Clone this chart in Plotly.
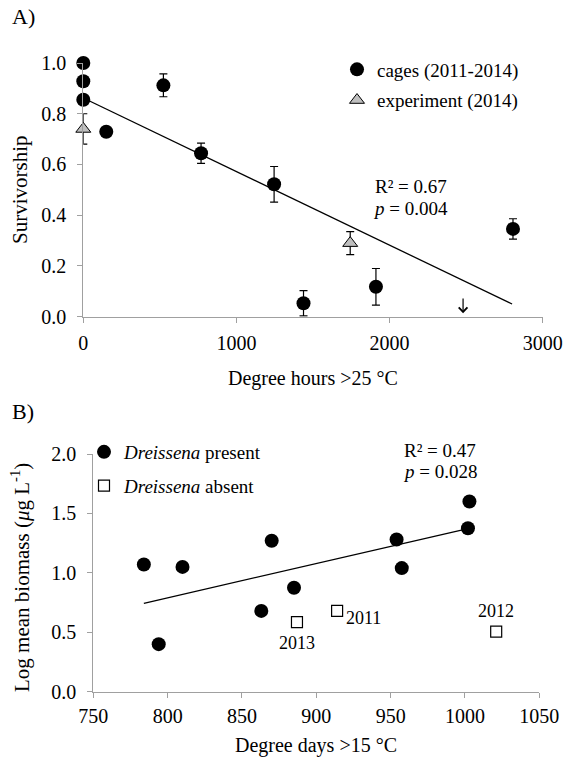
import plotly.graph_objects as go

W, H = 566, 763
FONT = "'Liberation Serif', 'Times New Roman', Tinos, serif"

# ---------------- Panel A data ----------------
cage_x = [0, 0, 0, 150, 523, 769, 1246, 1438, 1911, 2806]
cage_y = [1.0, 0.928, 0.855, 0.729, 0.912, 0.644, 0.522, 0.053, 0.118, 0.346]
cage_err = [0, 0, 0, 0, 0.045, 0.04, 0.07, 0.05, 0.072, 0.04]
exp_x = [0, 1743]
exp_y = [0.74, 0.29]
exp_err = [0.06, 0.045]
trendA_x = [0, 2800]
trendA_y = [0.862, 0.05]
arrowA_x = 2480
arrowA_y = [0.078, 0.014]
statsA = ["R² = 0.67", "<i>p</i> = 0.004"]
statsA_pos = (2137, [0.515, 0.428])
ticksA_x = [0, 1000, 2000, 3000]
ticksA_y = [0.0, 0.2, 0.4, 0.6, 0.8, 1.0]

# ---------------- Panel B data ----------------
pres_x = [784, 794, 810, 863, 870, 885, 954, 957.5, 1002, 1003]
pres_y = [1.07, 0.40, 1.05, 0.68, 1.27, 0.875, 1.28, 1.04, 1.375, 1.60]
abs_x = [887, 914, 1021]
abs_y = [0.585, 0.68, 0.505]
abs_labels = ["2013", "2011", "2012"]
trendB_x = [784, 1002]
trendB_y = [0.744, 1.372]
statsB = ["R² = 0.47", "<i>p</i> = 0.028"]
statsB_pos = (983, 1.85)
ticksB_x = [750, 800, 850, 900, 950, 1000, 1050]
ticksB_y = [0.0, 0.5, 1.0, 1.5, 2.0]


def px_x(p):
    return p / W


def px_y(p):
    return 1 - p / H


fig = go.Figure()

# Panel A traces
fig.add_trace(go.Scatter(
    x=trendA_x, y=trendA_y, mode="lines", line=dict(color="black", width=1.3),
    showlegend=False, xaxis="x", yaxis="y", hoverinfo="skip"))
fig.add_trace(go.Scatter(
    x=cage_x, y=cage_y, mode="markers", name="cages (2011-2014)",
    marker=dict(symbol="circle", size=14, color="black"),
    error_y=dict(type="data", array=cage_err, color="black", thickness=1.2, width=4),
    cliponaxis=False, xaxis="x", yaxis="y", legend="legend",
    legendgroup="a1"))
fig.add_trace(go.Scatter(
    x=exp_x, y=exp_y, mode="markers", name="experiment (2014)",
    marker=dict(symbol="triangle-up", size=13, color="#bfbfbf",
                line=dict(color="black", width=1)),
    error_y=dict(type="data", array=exp_err, color="black", thickness=1.2, width=4),
    cliponaxis=False, xaxis="x", yaxis="y", legend="legend",
    legendgroup="a2"))

# Panel B traces
fig.add_trace(go.Scatter(
    x=trendB_x, y=trendB_y, mode="lines", line=dict(color="black", width=1.3),
    showlegend=False, xaxis="x2", yaxis="y2", hoverinfo="skip"))
fig.add_trace(go.Scatter(
    x=pres_x, y=pres_y, mode="markers", name="<i>Dreissena</i> present",
    marker=dict(symbol="circle", size=14, color="black"),
    cliponaxis=False, xaxis="x2", yaxis="y2", legend="legend2",
    legendgroup="b1"))
fig.add_trace(go.Scatter(
    x=abs_x, y=abs_y, mode="markers", name="<i>Dreissena</i> absent",
    marker=dict(symbol="square", size=11, color="white",
                line=dict(color="black", width=1.2)),
    cliponaxis=False, xaxis="x2", yaxis="y2", legend="legend2",
    legendgroup="b2"))

axis_common = dict(
    showline=True, linecolor="#a0a0a0", linewidth=1.3,
    ticks="outside", ticklen=5, tickcolor="#a0a0a0", tickwidth=1.3,
    showgrid=False, zeroline=False, automargin=False,
    tickfont=dict(family=FONT, size=20, color="black"),
)

fig.update_layout(
    template="none",
    width=W, height=H, autosize=False,
    margin=dict(l=0, r=0, t=0, b=0, pad=0),
    paper_bgcolor="white", plot_bgcolor="white",
    font=dict(family=FONT, color="black"),
    xaxis=dict(domain=[px_x(83.3), px_x(542.7)], range=[0, 3000],
               tickvals=ticksA_x, anchor="y", ticklabelstandoff=3, **axis_common),
    yaxis=dict(domain=[px_y(316.7), px_y(63)], range=[0, 1.0],
               tickvals=ticksA_y, tickformat=".1f", anchor="x",
               ticklabelstandoff=7, **axis_common),
    xaxis2=dict(domain=[px_x(93.3), px_x(539.3)], range=[750, 1050],
                tickvals=ticksB_x, anchor="y2", ticklabelstandoff=1, **axis_common),
    yaxis2=dict(domain=[px_y(691.7), px_y(454)], range=[0, 2.0],
                tickvals=ticksB_y, tickformat=".1f", anchor="x2",
                ticklabelstandoff=7, **axis_common),
    legend=dict(x=px_x(337), y=px_y(85), xanchor="left", yanchor="middle",
                bgcolor="rgba(0,0,0,0)", traceorder="grouped", tracegroupgap=3,
                font=dict(family=FONT, size=19, color="black")),
    legend2=dict(x=px_x(84), y=px_y(469), xanchor="left", yanchor="middle",
                 bgcolor="rgba(0,0,0,0)", traceorder="grouped", tracegroupgap=6,
                 font=dict(family=FONT, size=19, color="black")),
)

ann = []
# panel labels
ann.append(dict(text="A)", x=px_x(10), y=px_y(17), xref="paper", yref="paper",
                xanchor="left", yanchor="middle", showarrow=False,
                font=dict(family=FONT, size=22)))
ann.append(dict(text="B)", x=px_x(10), y=px_y(411), xref="paper", yref="paper",
                xanchor="left", yanchor="middle", showarrow=False,
                font=dict(family=FONT, size=22)))
# axis titles
ann.append(dict(text="Degree hours &gt;25 °C", x=px_x(313), y=px_y(378),
                xref="paper", yref="paper", xanchor="center", yanchor="middle",
                showarrow=False, font=dict(family=FONT, size=20)))
ann.append(dict(text="Survivorship", x=px_x(20), y=px_y(190), textangle=-90,
                xref="paper", yref="paper", xanchor="center", yanchor="middle",
                showarrow=False, font=dict(family=FONT, size=21)))
ann.append(dict(text="Degree days &gt;15 °C", x=px_x(316), y=px_y(745),
                xref="paper", yref="paper", xanchor="center", yanchor="middle",
                showarrow=False, font=dict(family=FONT, size=20)))
ann.append(dict(text="Log mean biomass (<i>μ</i>g L<sup>-1</sup>)", x=px_x(20),
                y=px_y(578), textangle=-90,
                xref="paper", yref="paper", xanchor="center", yanchor="middle",
                showarrow=False, font=dict(family=FONT, size=21)))
# stats text
for t, yv in zip(statsA, statsA_pos[1]):
    ann.append(dict(text=t, x=statsA_pos[0], y=yv, xref="x", yref="y",
                    xanchor="center", yanchor="middle", showarrow=False,
                    font=dict(family=FONT, size=19)))
for t, ys in zip(statsB, [21.5, 0]):
    ann.append(dict(text=t, x=statsB_pos[0], y=statsB_pos[1], yshift=ys,
                    xref="x2", yref="y2",
                    xanchor="center", yanchor="middle", showarrow=False,
                    font=dict(family=FONT, size=19)))
# arrow
ann.append(dict(x=arrowA_x, y=arrowA_y[1], ax=arrowA_x, ay=arrowA_y[0],
                xref="x", yref="y", axref="x", ayref="y", text="",
                showarrow=True, arrowhead=4, arrowsize=1.4, arrowwidth=1.2,
                arrowcolor="black"))
# year labels
offsets = {"2013": dict(xanchor="center", yanchor="top", xshift=0, yshift=-9),
           "2011": dict(xanchor="left", yanchor="middle", xshift=7, yshift=-7),
           "2012": dict(xanchor="center", yanchor="bottom", xshift=0, yshift=9)}
for xv, yv, lab in zip(abs_x, abs_y, abs_labels):
    ann.append(dict(text=lab, x=xv, y=yv, xref="x2", yref="y2", showarrow=False,
                    font=dict(family=FONT, size=18), **offsets[lab]))

fig.update_layout(annotations=ann)

fig.write_html(
    "out.html",
    config={"displayModeBar": False},
    post_script="document.body.style.margin='0';document.body.style.padding='0';"
                "document.body.style.overflow='hidden';",
)
